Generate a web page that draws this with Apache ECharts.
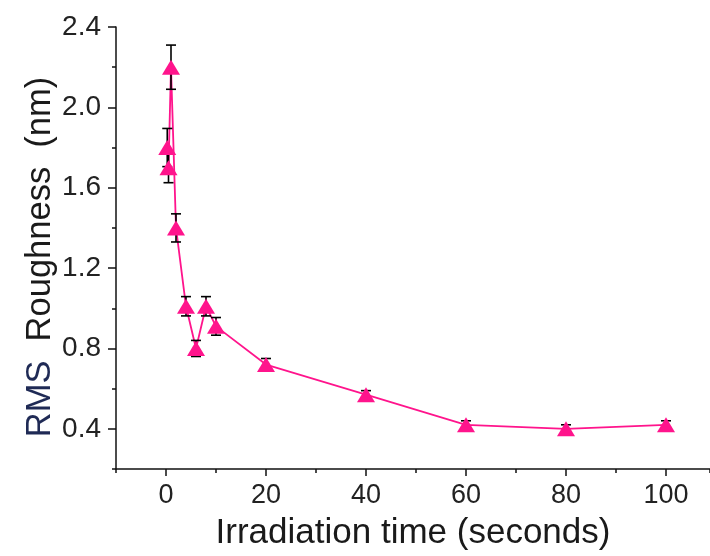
<!DOCTYPE html>
<html>
<head>
<meta charset="utf-8">
<script src="https://cdn.jsdelivr.net/npm/echarts@6/dist/echarts.min.js"></script>
<style>html,body{margin:0;padding:0;background:#fff}#c{width:710px;height:556px}</style>
</head>
<body>
<div id="c"></div>
<script>
// Data
var timeSeconds = [0.25, 0.5, 1, 2, 4, 6, 8, 10, 20, 40, 60, 80, 100];
var roughnessNm = [1.8, 1.7, 2.2, 1.4, 1.01, 0.8, 1.01, 0.91, 0.72, 0.57, 0.42, 0.40, 0.42];
var roughnessErr = [0.095, 0.075, 0.11, 0.07, 0.048, 0.04, 0.048, 0.044, 0.03, 0.02, 0.02, 0.02, 0.02];
var xMajorTicks = [0, 20, 40, 60, 80, 100];
var yMajorTicks = [0.4, 0.8, 1.2, 1.6, 2.0, 2.4];

var pink = '#ff148c';
var font = 'Liberation Sans, Arial, sans-serif';

var pts = timeSeconds.map(function (t, i) { return [t, roughnessNm[i]]; });
var errPts = timeSeconds.map(function (t, i) { return [t, roughnessNm[i], roughnessErr[i]]; });

var chart = echarts.init(document.getElementById('c'), null, {renderer: 'canvas'});
chart.setOption({
  animation: false,
  backgroundColor: '#fff',
  grid: {left: 116, right: 0, top: 27, bottom: 86, containLabel: false},
  xAxis: [{
    type: 'value', min: -10, max: 108.8, interval: 10,
    position: 'bottom',
    name: 'Irradiation time (seconds)', nameLocation: 'middle', nameGap: 47,
    nameTextStyle: {fontFamily: font, fontSize: 35, color: '#1a1a1a'},
    axisLine: {show: true, onZero: false, lineStyle: {color: '#111', width: 1.5}},
    axisTick: {show: true, inside: false, length: 7, customValues: xMajorTicks, lineStyle: {color: '#111', width: 1.5}},
    axisLabel: {show: true, customValues: xMajorTicks, margin: 13, fontFamily: font, fontSize: 27, color: '#222'},
    splitLine: {show: false}
  }, {
    type: 'value', min: -10, max: 108.8, interval: 10,
    position: 'bottom', offset: 0,
    axisLine: {show: false, onZero: false},
    axisTick: {show: true, inside: false, length: 4, lineStyle: {color: '#111', width: 1.5}},
    axisLabel: {show: false},
    splitLine: {show: false}
  }],
  yAxis: [{
    type: 'value', min: 0.2, max: 2.4, interval: 0.2,
    position: 'left',
    name: '{a|RMS}  Roughness  (nm)', nameLocation: 'middle', nameGap: 58, nameRotate: 90,
    nameMoveOverlap: false,
    nameTextStyle: {fontFamily: font, fontSize: 34.5, color: '#1a1a1a', padding: [0, 18, 0, 0],
      rich: {a: {fontFamily: font, fontSize: 34.5, color: '#1f2a55'}}},
    axisLine: {show: true, onZero: false, lineStyle: {color: '#111', width: 1.5}},
    axisTick: {show: true, inside: false, length: 8, customValues: yMajorTicks, lineStyle: {color: '#111', width: 1.5}},
    axisLabel: {show: true, customValues: yMajorTicks, margin: 15, fontFamily: font, fontSize: 28, color: '#222',
      formatter: function (v) { return v.toFixed(1); }},
    splitLine: {show: false}
  }, {
    type: 'value', min: 0.2, max: 2.4, interval: 0.2,
    position: 'left', offset: 0,
    axisLine: {show: false, onZero: false},
    axisTick: {show: true, inside: false, length: 4, lineStyle: {color: '#111', width: 1.5}},
    axisLabel: {show: false},
    splitLine: {show: false}
  }],
  series: [{
    type: 'line', data: pts, xAxisIndex: 0, yAxisIndex: 0,
    showSymbol: false, symbol: 'none', z: 1,
    lineStyle: {color: pink, width: 1.8}
  }, {
    type: 'custom', data: errPts, xAxisIndex: 0, yAxisIndex: 0, z: 2,
    renderItem: function (params, api) {
      var x = api.value(0), y = api.value(1), e = api.value(2);
      var top = api.coord([x, y + e]);
      var bot = api.coord([x, y - e]);
      var hw = 5;
      var st = {stroke: '#000', lineWidth: 1.6};
      return {type: 'group', children: [
        {type: 'line', shape: {x1: top[0], y1: top[1], x2: bot[0], y2: bot[1]}, style: st},
        {type: 'line', shape: {x1: top[0] - hw, y1: top[1], x2: top[0] + hw, y2: top[1]}, style: st},
        {type: 'line', shape: {x1: bot[0] - hw, y1: bot[1], x2: bot[0] + hw, y2: bot[1]}, style: st}
      ]};
    }
  }, {
    type: 'scatter', data: pts, xAxisIndex: 0, yAxisIndex: 0, z: 3,
    symbol: 'triangle', symbolSize: [18, 15],
    itemStyle: {color: pink, opacity: 1}
  }]
});
</script>
</body>
</html>
